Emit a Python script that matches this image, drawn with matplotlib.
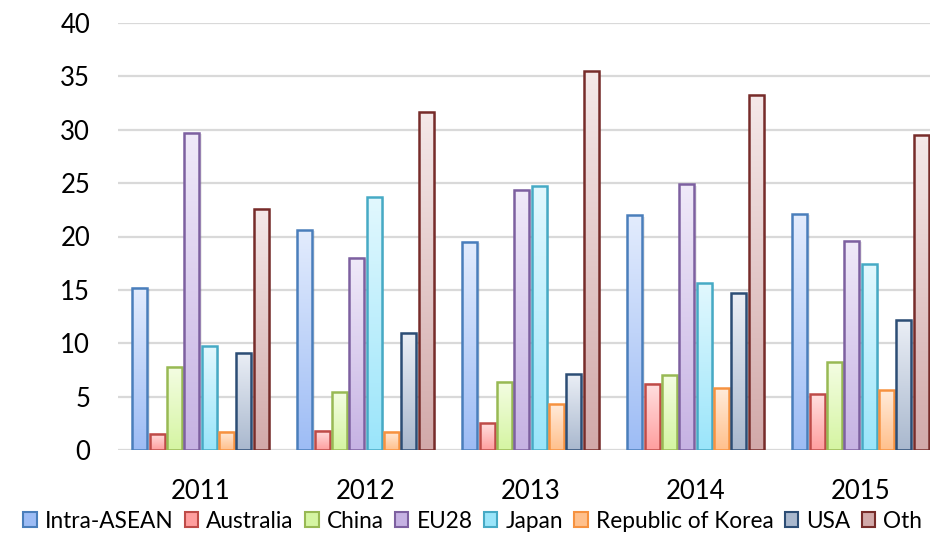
import matplotlib
matplotlib.use("Agg")
import matplotlib.pyplot as plt
import numpy as np
from matplotlib.colors import LinearSegmentedColormap
from matplotlib.patches import Patch
import matplotlib.patheffects as pe

years = ["2011", "2012", "2013", "2014", "2015"]
series = ["Intra-ASEAN", "Australia", "China", "EU28", "Japan",
          "Republic of Korea", "USA", "Oth"]

intra_asean = [15.2, 20.6, 19.5, 22.0, 22.1]
australia = [1.5, 1.8, 2.5, 6.2, 5.2]
china = [7.8, 5.4, 6.4, 7.0, 8.2]
eu28 = [29.7, 18.0, 24.4, 24.9, 19.6]
japan = [9.7, 23.7, 24.7, 15.6, 17.4]
korea = [1.7, 1.7, 4.3, 5.8, 5.6]
usa = [9.1, 11.0, 7.1, 14.7, 12.2]
other = [22.6, 31.7, 35.5, 33.3, 29.5]

values = [intra_asean, australia, china, eu28, japan, korea, usa, other]

# (edge, top fill, bottom fill)
styles = [
    ("#4A7EBB", "#E3ECFD", "#9DBCF5"),
    ("#BE4B48", "#FFE0E0", "#FF9E9E"),
    ("#98B954", "#F4FDE3", "#D5F5A2"),
    ("#7D60A0", "#F0EAF9", "#C6B2E3"),
    ("#46AAC5", "#E2F8FE", "#9AE5FA"),
    ("#F69240", "#FFEBDA", "#FFC08C"),
    ("#2C4D75", "#EBEFF6", "#A9B8CE"),
    ("#772C2A", "#F5E9E9", "#D2A9A9"),
]

W, H = 930, 533
fig = plt.figure(figsize=(W / 100, H / 100), dpi=100)
left, right, top, bottom = 118, 943, 23, 450
ax = fig.add_axes([left / W, 1 - bottom / H, (right - left) / W, (bottom - top) / H])

font = "Lato"
x = np.arange(len(years))
slot = 0.105
bw = 0.09

grad = np.linspace(0, 1, 256).reshape(-1, 1)
for i, (vals, (edge, c_top, c_bot)) in enumerate(zip(values, styles)):
    cmap = LinearSegmentedColormap.from_list(f"g{i}", [c_bot, c_top])
    xs = x + (i - 3.5) * slot
    bars = ax.bar(xs, vals, width=bw, facecolor="none", edgecolor=edge,
                  linewidth=1.8, zorder=4)
    for b in bars:
        x0, w, h = b.get_x(), b.get_width(), b.get_height()
        ax.imshow(grad, extent=[x0, x0 + w, 0, h], aspect="auto",
                  cmap=cmap, origin="lower", zorder=3, interpolation="bilinear")
        shadow = plt.Rectangle((x0, 0), w, h, facecolor="#000000", alpha=0.0,
                               zorder=2.5, edgecolor="none")
        shadow.set_path_effects([pe.SimplePatchShadow(offset=(2, -1), alpha=0.15,
                                                      shadow_rgbFace="#808080")])
        ax.add_patch(shadow)

ax.set_xlim(-0.5, len(years) - 0.5)
ax.set_ylim(0, 40)
ax.set_yticks(np.arange(0, 41, 5))
ax.yaxis.grid(True, color="#D9D9D9", linewidth=1.6, zorder=0)
ax.set_axisbelow(True)
for s in ax.spines.values():
    s.set_visible(False)
ax.tick_params(axis="y", length=0, pad=20, labelsize=18.5)
ax.tick_params(axis="x", length=0, pad=21, labelsize=18.5)
ax.set_xticks(x)
ax.set_xticklabels(years)
for lab in ax.get_xticklabels() + ax.get_yticklabels():
    lab.set_fontfamily(font)
    lab.set_color("#000000")

handles = [Patch(facecolor=c_bot, edgecolor=edge, linewidth=1.5)
           for (edge, c_top, c_bot) in styles]
fig.legend(handles, series, loc="center left", bbox_to_anchor=(0.003, 1 - 521 / H),
           ncol=8, frameon=False, handlelength=0.6, handleheight=0.6,
           handletextpad=0.35, columnspacing=0.5,
           prop={"family": font, "size": 16.3})

fig.savefig("out.png", dpi=100)
